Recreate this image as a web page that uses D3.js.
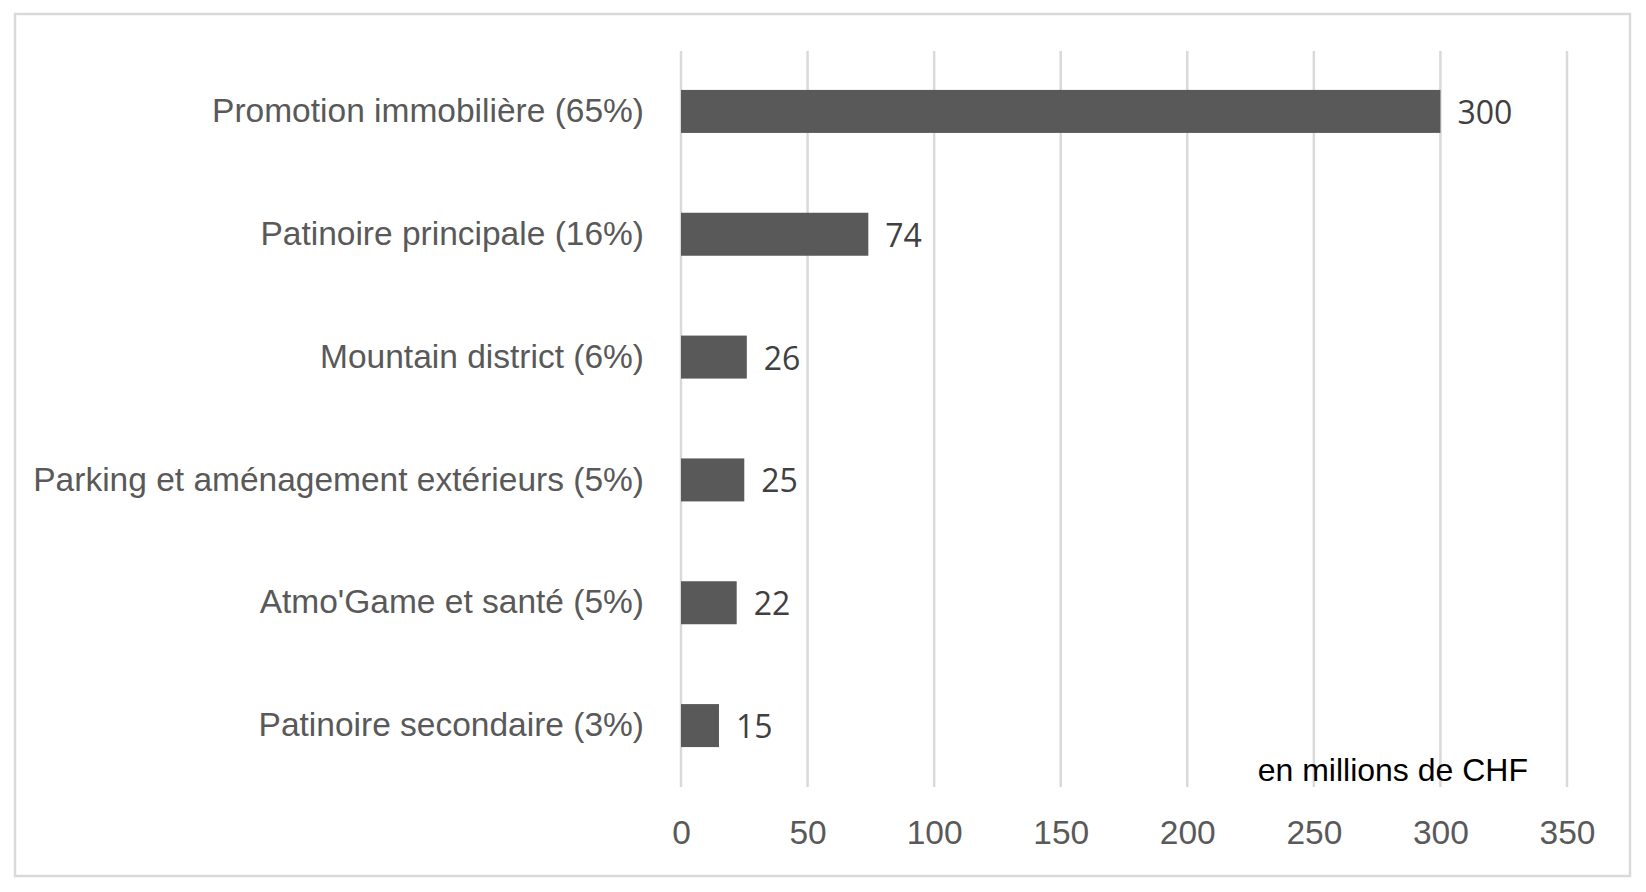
<!DOCTYPE html>
<html>
<head>
<meta charset="utf-8">
<script src="https://cdn.jsdelivr.net/npm/d3@7"></script>
<style>
  body { margin: 0; background: #fff; }
  svg { display: block; }
</style>
</head>
<body>
<div id="chart"></div>
<script>
const categories = [
  "Promotion immobilière (65%)",
  "Patinoire principale (16%)",
  "Mountain district (6%)",
  "Parking et aménagement extérieurs (5%)",
  "Atmo'Game et santé (5%)",
  "Patinoire secondaire (3%)",
];
const values = [300, 74, 26, 25, 22, 15];
const xTicks = [0, 50, 100, 150, 200, 250, 300, 350];
const unitLabel = "en millions de CHF";

const W = 1646, H = 892;
const plot = { left: 681, right: 1567, top: 50, bottom: 787 };

const svg = d3.select("#chart")
  .append("svg")
  .attr("width", W)
  .attr("height", H);

// outer frame
svg.append("rect")
  .attr("x", 15).attr("y", 14)
  .attr("width", 1615).attr("height", 862)
  .attr("fill", "#fff")
  .attr("stroke", "#d9d9d9")
  .attr("stroke-width", 2.5);

const x = d3.scaleLinear()
  .domain([0, 350])
  .range([plot.left, plot.right]);

const y = d3.scaleBand()
  .domain(categories)
  .range([plot.top, plot.bottom])
  .paddingInner(0.65)
  .paddingOuter(0.325);

// vertical gridlines
svg.append("g")
  .selectAll("line")
  .data(xTicks)
  .join("line")
  .attr("x1", d => x(d)).attr("x2", d => x(d))
  .attr("y1", plot.top + 1).attr("y2", plot.bottom)
  .attr("stroke", "#d9d9d9")
  .attr("stroke-width", 2.5);

// x axis labels
const xAxis = svg.append("g")
  .attr("transform", `translate(0, ${plot.bottom + 57})`)
  .call(d3.axisBottom(x).tickValues(xTicks).tickSize(0).tickPadding(0));
xAxis.select(".domain").remove();
xAxis.selectAll("text")
  .attr("dy", 0)
  .style("fill", "#595959")
  .style("font-family", "'Liberation Sans', Arial, sans-serif")
  .style("font-size", "33.5px");

// category labels
const yAxis = svg.append("g")
  .attr("transform", `translate(${plot.left - 37}, 0)`)
  .call(d3.axisLeft(y).tickSize(0).tickPadding(0));
yAxis.select(".domain").remove();
yAxis.selectAll("text")
  .attr("dy", "0.32em")
  .style("fill", "#595959")
  .style("font-family", "'Liberation Sans', Arial, sans-serif")
  .style("font-size", "33.5px");

const rows = categories.map((c, i) => ({ cat: c, val: values[i] }));

// bars
svg.append("g")
  .selectAll("rect")
  .data(rows)
  .join("rect")
  .attr("x", x(0))
  .attr("y", d => y(d.cat))
  .attr("width", d => x(d.val) - x(0))
  .attr("height", y.bandwidth())
  .attr("fill", "#595959");

// value labels
svg.append("g")
  .selectAll("text")
  .data(rows)
  .join("text")
  .attr("x", d => x(d.val) + 17)
  .attr("y", d => y(d.cat) + y.bandwidth() / 2)
  .attr("dy", "0.39em")
  .text(d => d.val)
  .style("fill", "#404040")
  .style("font-family", "'Open Sans', sans-serif")
  .style("font-size", "32px");

// unit note
svg.append("text")
  .attr("x", x(350) - 39)
  .attr("y", plot.bottom - 6)
  .attr("text-anchor", "end")
  .text(unitLabel)
  .style("fill", "#000")
  .style("font-family", "'Liberation Sans', Arial, sans-serif")
  .style("font-size", "32px");
</script>
</body>
</html>
